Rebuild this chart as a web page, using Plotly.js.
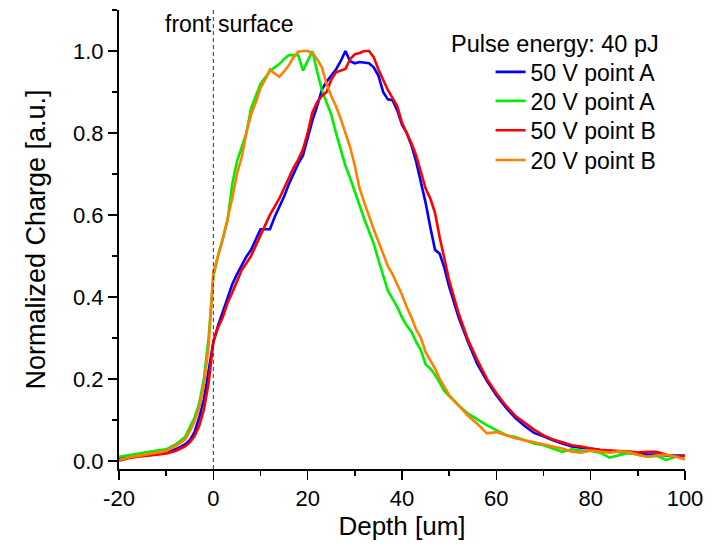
<!DOCTYPE html>
<html>
<head>
<meta charset="utf-8">
<script src="https://cdn.plot.ly/plotly-3.0.1.min.js"></script>
<style>html,body{margin:0;padding:0;background:#fff;}#chart{width:712px;height:551px;}</style>
</head>
<body>
<div id="chart"></div>
<script>
const depth = [-20,-18,-16,-14,-12,-10,-8,-6,-5,-4,-3,-2,-1,0,1,2,3,4,5,6,7,8,9,10,11,12,13,14,15,16,17,18,19,20,21,22,23,24,25,26,27,28,29,30,31,32,33,34,35,36,37,38,39,40,41,42,43,44,45,46,47,48,49,50,52,54,56,58,60,62,64,66,68,70,72,74,76,78,80,82,84,86,88,90,92,94,96,98,100];

const v50A = [0.004,0.008,0.012,0.013,0.017,0.020,0.028,0.040,0.050,0.070,0.105,0.150,0.220,0.290,0.330,0.365,0.400,0.430,0.455,0.478,0.498,0.515,0.540,0.565,0.565,0.565,0.595,0.620,0.645,0.675,0.700,0.725,0.745,0.790,0.830,0.865,0.905,0.925,0.940,0.955,0.975,1.000,0.975,0.970,0.973,0.972,0.970,0.960,0.940,0.900,0.882,0.880,0.855,0.820,0.800,0.770,0.730,0.680,0.630,0.570,0.515,0.505,0.470,0.425,0.350,0.290,0.235,0.195,0.160,0.130,0.105,0.085,0.068,0.060,0.050,0.042,0.035,0.032,0.030,0.026,0.024,0.022,0.020,0.018,0.015,0.015,0.013,0.013,0.013];

const v20A = [0.010,0.014,0.017,0.021,0.025,0.028,0.040,0.058,0.080,0.105,0.140,0.200,0.300,0.450,0.500,0.540,0.585,0.675,0.730,0.765,0.800,0.860,0.890,0.920,0.935,0.950,0.960,0.968,0.980,0.990,0.990,0.990,0.952,0.975,1.000,0.950,0.905,0.875,0.845,0.800,0.760,0.720,0.690,0.655,0.620,0.590,0.560,0.530,0.490,0.450,0.415,0.395,0.375,0.350,0.330,0.315,0.290,0.270,0.235,0.225,0.210,0.190,0.170,0.158,0.135,0.115,0.100,0.087,0.075,0.063,0.058,0.050,0.042,0.038,0.030,0.022,0.028,0.025,0.024,0.020,0.008,0.014,0.019,0.015,0.010,0.012,0.002,0.010,0.012];

const v50B = [0.000,0.006,0.010,0.012,0.015,0.018,0.024,0.035,0.045,0.060,0.085,0.125,0.190,0.290,0.325,0.350,0.385,0.410,0.440,0.465,0.482,0.500,0.525,0.550,0.575,0.600,0.620,0.640,0.665,0.690,0.715,0.735,0.760,0.800,0.850,0.875,0.890,0.900,0.930,0.948,0.952,0.956,0.980,0.992,0.995,1.000,1.000,0.985,0.955,0.930,0.905,0.885,0.865,0.825,0.800,0.775,0.745,0.705,0.665,0.640,0.605,0.545,0.490,0.440,0.360,0.295,0.245,0.200,0.165,0.135,0.110,0.093,0.076,0.062,0.052,0.045,0.038,0.035,0.030,0.027,0.025,0.024,0.023,0.020,0.022,0.022,0.015,0.010,0.012];

const v20B = [0.002,0.008,0.012,0.016,0.020,0.024,0.036,0.052,0.072,0.095,0.130,0.185,0.280,0.460,0.500,0.540,0.590,0.640,0.700,0.740,0.800,0.845,0.875,0.910,0.930,0.955,0.945,0.937,0.950,0.965,0.985,0.998,1.000,1.000,0.995,0.980,0.960,0.920,0.890,0.865,0.835,0.800,0.765,0.720,0.665,0.630,0.595,0.565,0.535,0.505,0.475,0.455,0.430,0.405,0.375,0.350,0.320,0.300,0.265,0.245,0.225,0.200,0.180,0.160,0.135,0.110,0.090,0.067,0.070,0.063,0.055,0.050,0.045,0.040,0.036,0.030,0.022,0.020,0.025,0.022,0.020,0.023,0.022,0.015,0.010,0.013,0.015,0.010,0.003];

const seriesNames = ['50 V point A','20 V point A','50 V point B','20 V point B'];
const seriesColors = ['#0000ff','#00ee00','#ff0000','#ff8000'];
const seriesValues = [v50A, v20A, v50B, v20B];

const xTickVals = [-20,0,20,40,60,80,100];
const xTickText = ['-20','0','20','40','60','80','100'];

const FONT = 'Liberation Sans, Arial, sans-serif';
const legendIds = ['legend','legend2','legend3','legend4'];
const legendRowsY = [0.865, 0.802, 0.738, 0.673];

const traces = seriesValues.map((v,i)=>({
  x: depth, y: v, type:'scatter', mode:'lines', name: seriesNames[i],
  legend: legendIds[i],
  line:{color: seriesColors[i], width:2.6}
}));

const layout = {
  width:712, height:551,
  margin:{l:119, r:27, t:10, b:82},
  paper_bgcolor:'#fff', plot_bgcolor:'#fff',
  font:{family:FONT, color:'#000'},
  showlegend:true,
  xaxis:{range:[-20,100], showgrid:false, zeroline:false, showline:true, linecolor:'#000', linewidth:2,
         ticks:'outside', ticklen:9, tickwidth:1.5, tickcolor:'#000',
         tickmode:'array', tickvals:xTickVals, ticktext:xTickText,
         tickfont:{family:FONT, size:22},
         minor:{dtick:10, tick0:0, ticks:'outside', ticklen:5, tickwidth:1.5, tickcolor:'#000', showgrid:false},
         title:{text:'Depth [um]', font:{family:FONT, size:26}, standoff:6}},
  yaxis:{range:[-0.02,1.1], showgrid:false, zeroline:false, showline:true, linecolor:'#000', linewidth:2,
         ticks:'outside', ticklen:9, tickwidth:1.5, tickcolor:'#000',
         tickmode:'linear', tick0:0, dtick:0.2, tickformat:'.1f',
         tickfont:{family:FONT, size:22},
         minor:{dtick:0.1, tick0:0, ticks:'outside', ticklen:5, tickwidth:1.5, tickcolor:'#000', showgrid:false},
         title:{text:'Normalized Charge [a.u.]', font:{family:FONT, size:27}, standoff:20}},
  shapes:[{type:'line', xref:'x', yref:'paper', x0:0, x1:0, y0:0, y1:1,
           line:{color:'#333', width:1, dash:'4px,3px'}}],
  annotations:[
    {xref:'x', yref:'paper', x:0, y:0.969, xanchor:'right', yanchor:'middle', xshift:1,
     text:'front', showarrow:false, font:{family:FONT, size:23, color:'#000'}},
    {xref:'x', yref:'paper', x:0, y:0.969, xanchor:'left', yanchor:'middle', xshift:3,
     text:'surface', showarrow:false, font:{family:FONT, size:23, color:'#000'}},
    {xref:'paper', yref:'paper', x:0.958, y:0.926, xanchor:'right', yanchor:'middle',
     text:'Pulse energy: 40 pJ', showarrow:false, font:{family:FONT, size:23.5, color:'#000'}}
  ]
};
legendIds.forEach((id,i)=>{
  layout[id] = {x:0.6565, y:legendRowsY[i], xanchor:'left', yanchor:'middle', bgcolor:'rgba(0,0,0,0)',
                font:{family:FONT, size:23, color:'#000'}};
});

Plotly.newPlot('chart', traces, layout, {displayModeBar:false, staticPlot:true});
</script>
</body>
</html>
